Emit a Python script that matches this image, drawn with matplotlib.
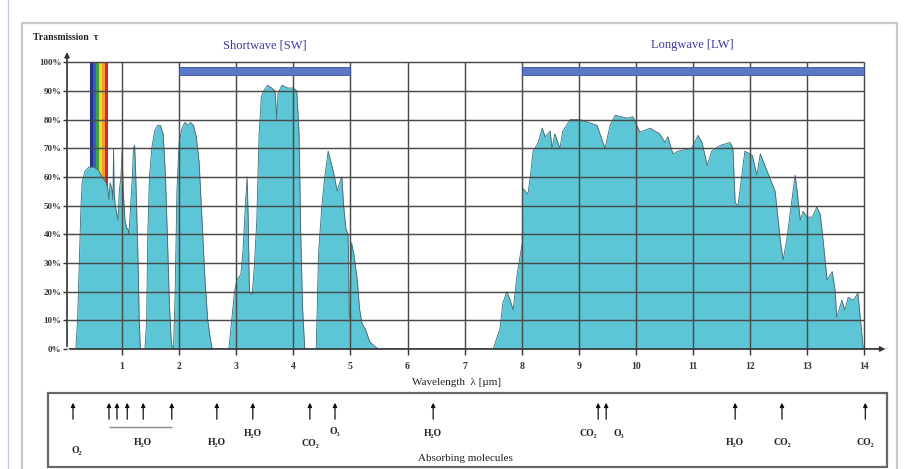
import matplotlib
matplotlib.use('Agg')
import matplotlib.pyplot as plt
from matplotlib.patches import Rectangle
from matplotlib.lines import Line2D
import numpy as np

# ---------------- data ----------------
wavelength = [0.03, 0.19, 0.22, 0.25, 0.28, 0.30, 0.35, 0.42, 0.50, 0.58, 0.65, 0.72, 0.75, 0.77,
              0.79, 0.82, 0.84, 0.85, 0.86, 0.88, 0.91, 0.93, 0.95, 0.98, 1.00, 1.02, 1.05, 1.08,
              1.10, 1.12, 1.15, 1.18, 1.20, 1.22, 1.24, 1.26, 1.28, 1.30, 1.32,
              1.40, 1.43, 1.45, 1.48, 1.52, 1.57, 1.62, 1.67, 1.72, 1.76, 1.80, 1.83, 1.86, 1.88,
              1.90, 1.93, 1.96, 2.00, 2.05, 2.10, 2.15, 2.20, 2.25, 2.30, 2.35, 2.40, 2.45, 2.50,
              2.55, 2.58,
              2.87, 2.92, 2.97, 3.01, 3.08, 3.12, 3.16, 3.19, 3.21, 3.23, 3.28, 3.32, 3.36, 3.40,
              3.44, 3.48, 3.55, 3.62, 3.68, 3.71, 3.73, 3.80, 3.90, 4.00, 4.06, 4.10, 4.13, 4.16,
              4.20,
              4.40, 4.42, 4.44, 4.50, 4.55, 4.61, 4.66, 4.70, 4.74, 4.77, 4.81, 4.85, 4.88, 4.92,
              4.96, 4.98, 5.00, 5.02, 5.06, 5.12, 5.16, 5.20, 5.26, 5.34, 5.45, 5.52,
              7.50, 7.62, 7.67, 7.74, 7.80, 7.85, 7.92, 8.01, 8.02, 8.11, 8.15, 8.20, 8.29, 8.36,
              8.41, 8.50, 8.53, 8.58, 8.67, 8.72, 8.85, 9.02, 9.32, 9.46, 9.55, 9.64, 9.85, 9.95,
              10.07, 10.25, 10.42, 10.51, 10.56, 10.65, 10.74, 10.98, 11.09, 11.16, 11.25, 11.33,
              11.48, 11.65, 11.70, 11.74, 11.79, 11.86, 11.91, 12.04, 12.12, 12.18, 12.30, 12.44,
              12.53, 12.58, 12.65, 12.74, 12.79, 12.82, 12.88, 12.93, 13.00, 13.09, 13.17, 13.23,
              13.28, 13.35, 13.44, 13.49, 13.52, 13.61, 13.66, 13.72, 13.81, 13.89, 13.93, 13.98,
              14.03, 14.40]
transmission = [0, 0, 10, 30, 50, 58, 62, 63.5, 63.5, 62.5, 60, 58, 56, 52,
                58, 56, 52, 70, 55, 50, 47, 45, 55, 60, 69, 55, 45, 42,
                42, 40, 50, 60, 70, 71, 60, 45, 30, 10, 0,
                0, 10, 40, 60, 70, 76, 78, 78, 75, 60, 35, 15, 3, 0,
                0, 20, 55, 72, 77, 79, 78, 79, 78, 74, 65, 45, 25, 10,
                3, 0,
                0, 10, 20, 24, 26, 35, 50, 60, 45, 20, 19, 30, 45, 75,
                88, 90, 92, 91, 90, 80, 89, 92, 91, 91, 90, 75, 40, 15,
                0,
                0, 15, 33, 50, 60, 69, 65, 62, 58, 55, 58, 60, 50, 42,
                40, 12, 10, 37, 33, 24, 14, 9, 7, 2.5, 0.5, 0,
                0, 7, 16, 20, 17, 13.6, 26, 37, 56, 54, 60, 69, 72, 77,
                74, 76, 70, 75, 70, 76, 80, 80, 78, 70, 78, 81.5, 80.5, 81,
                75.6, 77, 75, 72, 74, 68, 69, 70, 74.5, 72, 64, 69,
                71, 72, 70, 51, 50, 61, 69, 67.5, 60.6, 68, 62, 55,
                38, 31, 39, 53, 60.6, 56, 45, 48, 46, 46, 49.5, 47,
                38, 24, 27, 20.5, 11, 17, 13.6, 18, 17, 19.5, 11, 0.7,
                0, 0]

band_names = ['Shortwave [SW]', 'Longwave [LW]']
band_start = [2.0, 8.0]
band_end = [5.0, 14.0]

rainbow_edges = [0.44, 0.49, 0.545, 0.60, 0.65, 0.70, 0.755]
rainbow_colors = ['#2c2a8a', '#3460c0', '#3aa04a', '#e6dc28', '#f2a024', '#e02424']

arrow_wl = [0.14, 0.77, 0.91, 1.09, 1.37, 1.87, 2.66, 3.29, 4.29, 4.73, 6.45,
            9.34, 9.48, 11.74, 12.56, 14.02]
mol_labels = ['O₂', 'H₂O', 'H₂O', 'H₂O', 'CO₂', 'O₃', 'H₂O', 'CO₂', 'O₃', 'H₂O', 'CO₂', 'CO₂']
mol_wl = [0.2, 1.37, 2.66, 3.29, 4.29, 4.73, 6.45, 9.17, 9.7, 11.74, 12.56, 14.02]
mol_row = [450, 442, 442, 433, 443, 431, 433, 433, 433, 442, 442, 442]

ytick_vals = list(range(0, 101, 10))
ytick_labels = [f'{v}%' for v in ytick_vals]
xtick_vals = list(range(1, 15))

# ---------------- figure ----------------
W, H = 907, 469
SERIF = ['Liberation Serif', 'DejaVu Serif']
plt.rcParams['font.family'] = SERIF
fig = plt.figure(figsize=(W / 100, H / 100), dpi=100)
fig.patch.set_facecolor('white')


def fx(px):
    return px / W


def fy(py):
    return 1 - py / H


# outer page frame
fig.add_artist(Line2D([fx(22), fx(22), fx(897), fx(897)], [0, fy(23), fy(23), 0],
                      transform=fig.transFigure, color='#c8c8c8', lw=1.6))
fig.add_artist(Line2D([fx(8), fx(8)], [0, 1], transform=fig.transFigure, color='#c4c4ee', lw=1.0))

X0, X1 = 0.035, 14.54
ax = fig.add_axes([fx(67), fy(349), fx(895) - fx(67), fy(45) - fy(349)])
ax.set_xlim(X0, X1)
ax.set_ylim(0, 106)
for s in ax.spines.values():
    s.set_visible(False)

# rainbow (visible band)
for a, b, c in zip(rainbow_edges[:-1], rainbow_edges[1:], rainbow_colors):
    ax.fill_between([a, b], 0, 100, color=c, lw=0, zorder=1)

# spectrum
ax.fill_between(wavelength, transmission, 0, color='#5cc6d6', lw=0, zorder=2)
ax.plot(wavelength, transmission, color='#3d6773', lw=0.6, zorder=2.5)

# grid
ax.hlines(np.arange(10, 101, 10), X0, 14, colors='#4a4a4a', lw=1.05, zorder=3)
ax.vlines(xtick_vals, 0, 100, colors='#4a4a4a', lw=1.05, zorder=3)

# band bars
for s0, s1 in zip(band_start, band_end):
    ax.broken_barh([(s0, s1 - s0)], (95.5, 2.9), facecolors='#5b78c6',
                   edgecolors='#3a52a2', lw=0.6, zorder=4)

# axes with arrows
ax.annotate('', xy=(X0, 104.5), xytext=(X0, 0),
            arrowprops=dict(arrowstyle='-|>', color='#333333', lw=1.2, mutation_scale=7),
            annotation_clip=False, zorder=5)
ax.annotate('', xy=(14.42, 0), xytext=(X0, 0),
            arrowprops=dict(arrowstyle='-|>', color='#333333', lw=1.2, mutation_scale=7),
            annotation_clip=False, zorder=5)

ax.set_yticks(ytick_vals)
ax.set_yticklabels(ytick_labels, fontweight='bold')
ax.set_xticks(xtick_vals)
ax.set_xticklabels([str(v) for v in xtick_vals], fontweight='bold')
ax.tick_params(axis='y', direction='out', length=3, width=1, pad=1, labelsize=6.5,
               colors='#333333', labelcolor='#333333')
ax.tick_params(axis='x', direction='out', length=4, width=1, pad=5, labelsize=7,
               colors='#333333', labelcolor='#333333')

# texts
fig.text(fx(265), fy(45), band_names[0], color='#3a3aa0', ha='center', va='center', fontsize=9)
fig.text(fx(692), fy(45), band_names[1], color='#3a3aa0', ha='center', va='center', fontsize=9)
fig.text(fx(33), fy(37), 'Transmission  τ', ha='left', va='center', fontsize=7,
         color='#222222', fontweight='bold')
fig.text(fx(457), fy(382), 'Wavelength  λ [µm]', ha='center', va='center', fontsize=8, color='#222222')

# absorbing molecules box
fig.add_artist(Rectangle((fx(48), fy(467)), fx(887) - fx(48), fy(393) - fy(467),
                         transform=fig.transFigure, fill=False, edgecolor='#666666', lw=1.6))
bx = fig.add_axes([fx(67), 0, fx(895) - fx(67), fy(393)])
bx.set_xlim(X0, X1)
bx.set_ylim(H, 393)
bx.axis('off')
for x in arrow_wl:
    bx.annotate('', xy=(x, 400), xytext=(x, 422),
                arrowprops=dict(arrowstyle='-|>', color='#111111', lw=0.9, mutation_scale=6),
                annotation_clip=False)
bx.hlines(427, arrow_wl[1], arrow_wl[5], colors='#888888', lw=1.0)
for s, x, y in zip(mol_labels, mol_wl, mol_row):
    bx.text(x, y, s, ha='center', va='center', fontsize=7, color='#222222',
            fontweight='bold', clip_on=False)
fig.text(fx(465), fy(458), 'Absorbing molecules', ha='center', va='center', fontsize=8, color='#222222')

fig.savefig('out.png', dpi=100, facecolor='white')
